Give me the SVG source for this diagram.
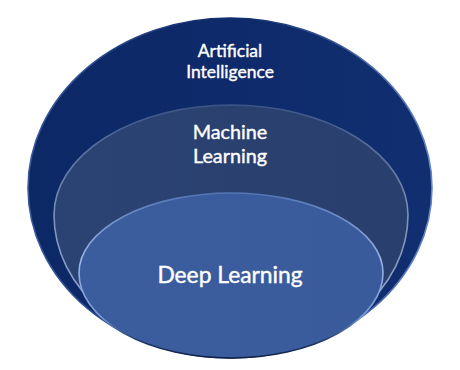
<svg xmlns="http://www.w3.org/2000/svg" width="460" height="370" viewBox="0 0 460 370">
<defs>
<linearGradient id="gOuter" x1="0" y1="0" x2="1" y2="0">
<stop offset="0" stop-color="#0c2865"/>
<stop offset="0.5" stop-color="#0e2a6a"/>
<stop offset="1" stop-color="#112f70"/>
</linearGradient>
<linearGradient id="gMid" x1="0" y1="0" x2="1" y2="0">
<stop offset="0" stop-color="#2b4373"/>
<stop offset="1" stop-color="#293f6d"/>
</linearGradient>
<linearGradient id="gInner" x1="0" y1="0" x2="1" y2="0">
<stop offset="0" stop-color="#3b5d9e"/>
<stop offset="1" stop-color="#3a5b9b"/>
</linearGradient>
<linearGradient id="rimOuter" x1="0" y1="0" x2="1" y2="0">
<stop offset="0" stop-color="#3a5a9c"/>
<stop offset="0.45" stop-color="#132f70"/>
<stop offset="0.55" stop-color="#132f70"/>
<stop offset="1" stop-color="#6585c6"/>
</linearGradient>
<linearGradient id="rimMid" x1="0" y1="0" x2="0" y2="1">
<stop offset="0" stop-color="#3d5586"/>
<stop offset="0.45" stop-color="#7d93bb"/>
<stop offset="1" stop-color="#9bb0d4"/>
</linearGradient>
<linearGradient id="rimInner" x1="0" y1="0" x2="0" y2="1">
<stop offset="0" stop-color="#5275b3"/>
<stop offset="0.4" stop-color="#9ab6e8"/>
<stop offset="0.75" stop-color="#7a9ad6"/>
<stop offset="0.9" stop-color="#1d3564"/>
<stop offset="1" stop-color="#0f2046"/>
</linearGradient>
</defs>
<style>
.lbl{font-family:Lato,"Open Sans","DejaVu Sans",sans-serif;fill:#ffffff;stroke:#ffffff;stroke-width:0.4;text-anchor:middle}
</style>
<rect width="460" height="370" fill="#ffffff"/>
<g id="ai">
<ellipse cx="230" cy="188" rx="202" ry="170" fill="url(#gOuter)" stroke="url(#rimOuter)" stroke-width="1.6"/>
<text class="lbl" font-size="17.5"><tspan x="230" y="56.5">Artificial</tspan><tspan x="230" y="77.5">Intelligence</tspan></text>
</g>
<g id="ml">
<path d="M54,215 A177,110 0 0 1 408,215 A177,140 0 0 1 54,215 Z" fill="url(#gMid)" stroke="url(#rimMid)" stroke-width="1.6"/>
<text class="lbl" font-size="19.8"><tspan x="230" y="139">Machine</tspan><tspan x="230" y="163">Learning</tspan></text>
</g>
<g id="dl">
<path d="M79,273 A152,80 0 0 1 383,273 A152,85 0 0 1 79,273 Z" fill="url(#gInner)" stroke="url(#rimInner)" stroke-width="1.6"/>
<text class="lbl" x="230" y="283" font-size="22.8">Deep Learning</text>
</g>
</svg>
